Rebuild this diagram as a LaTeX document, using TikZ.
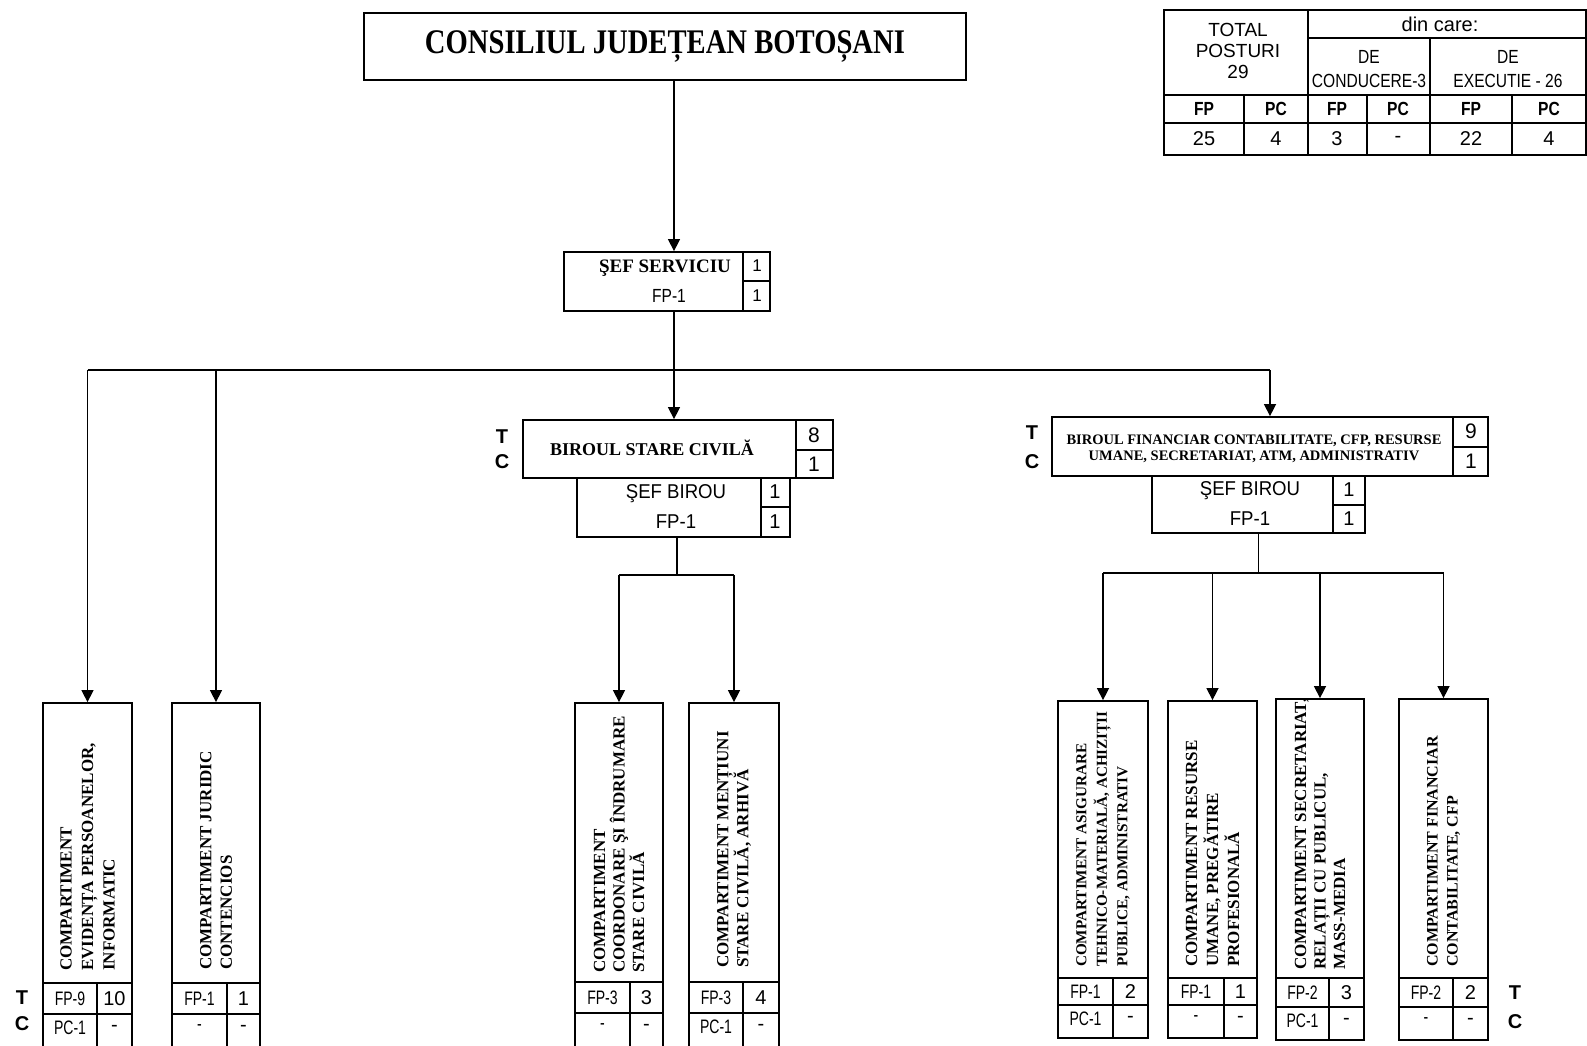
\documentclass[tikz,border=0pt]{standalone}
\usepackage{fontspec}
\setmainfont{Liberation Serif}
\newfontfamily\sansf{Liberation Sans}
\newfontfamily\narrowf[FakeStretch=0.82]{Liberation Sans}
\newfontfamily\thinf[FakeStretch=0.72]{Liberation Sans}
\newfontfamily\semif[FakeStretch=0.93]{Liberation Sans}
\newfontfamily\condf[FakeStretch=0.83]{Liberation Serif}
\usetikzlibrary{arrows.meta}
\begin{document}
\begin{tikzpicture}[x=1pt,y=-1pt,
  bx/.style={draw, line width=1.8pt, inner sep=0pt},
  ln/.style={line width=1.4pt},
  cl/.style={line width=1.3pt},
  arr/.style={line width=1.4pt, -{Triangle[length=12pt,width=12pt]}},
  tx/.style={inner sep=0pt, align=center},
  vt/.style={rotate=90, anchor=west, align=left, inner sep=0pt},
  fpf/.style={tx, font=\thinf\fontsize{19.5}{21}\selectfont},
  numf/.style={tx, font=\sansf\fontsize{20}{22}\selectfont},
  tcf/.style={tx, font=\sansf\bfseries\fontsize{20}{22}\selectfont},
  sbf/.style={tx, font=\semif\fontsize{20}{22}\selectfont},
  hdf/.style={tx, font=\bfseries\fontsize{18}{20}\selectfont}
]
\useasboundingbox[fill=white] (0,0) rectangle (1587,1045);

% ---------- top box ----------
\node[bx, minimum width=602pt, minimum height=67pt,
      font=\condf\bfseries\fontsize{34.5}{40}\selectfont] (cj) at (665,46.5) {CONSILIUL JUDEȚEAN BOTOȘANI};

% ---------- sef serviciu ----------
\node[bx, minimum width=206pt, minimum height=59pt] (ss) at (667,281.5) {};
\draw[cl] (743,252) -- (743,311);
\draw[cl] (743,281) -- (770,281);
\node[tx, font=\bfseries\fontsize{19}{21}\selectfont] (sst) at (665,268) {ŞEF SERVICIU};
\node[tx, font=\narrowf\fontsize{19}{21}\selectfont] (ssf) at (669,296) {FP-1};
\node[tx, font=\sansf\fontsize{17}{19}\selectfont] (ssn1) at (757,266) {1};
\node[tx, font=\sansf\fontsize{17}{19}\selectfont] (ssn2) at (757,296) {1};

% ---------- birou stare civila ----------
\node[bx, minimum width=310pt, minimum height=58pt] (bsc) at (678,449) {};
\draw[cl] (796,420) -- (796,478);
\draw[cl] (796,450) -- (833,450);
\node[hdf] (bsct) at (652,448) {BIROUL STARE CIVILĂ};
\node[numf, font=\sansf\fontsize{21}{22}\selectfont] (bscn1) at (814,435) {8};
\node[numf, font=\sansf\fontsize{21}{22}\selectfont] (bscn2) at (814,464) {1};
\node[tcf] (bscT) at (502,437) {T};
\node[tcf] (bscC) at (502,462) {C};

\node[bx, minimum width=213pt, minimum height=59pt] (sb) at (683.5,507.5) {};
\draw[cl] (761,478) -- (761,537);
\draw[cl] (761,507) -- (790,507);
\node[sbf] (sbt) at (676,494) {ŞEF BIROU};
\node[sbf] (sbp) at (676,522) {FP-1};
\node[numf] (sbn1) at (775,492) {1};
\node[numf] (sbn2) at (775,522) {1};

% ---------- birou financiar ----------
\node[bx, minimum width=436pt, minimum height=59pt] (bf) at (1270,446.5) {};
\draw[cl] (1453,417) -- (1453,476);
\draw[cl] (1453,447) -- (1488,447);
\node[tx, font=\bfseries\fontsize{14.5}{15.5}\selectfont] (bft) at (1254,449)
  {BIROUL FINANCIAR CONTABILITATE, CFP, RESURSE\\UMANE, SECRETARIAT, ATM, ADMINISTRATIV};
\node[numf, font=\sansf\fontsize{21}{22}\selectfont] (bfn1) at (1471,431) {9};
\node[numf, font=\sansf\fontsize{21}{22}\selectfont] (bfn2) at (1471,461) {1};
\node[tcf] (bfT) at (1032,433) {T};
\node[tcf] (bfC) at (1032,462) {C};

\node[bx, minimum width=213pt, minimum height=57pt] (sbfi) at (1258.5,504.5) {};
\draw[cl] (1333,476) -- (1333,533);
\draw[cl] (1333,505) -- (1365,505);
\node[sbf] (sbft) at (1250,491) {ŞEF BIROU};
\node[sbf] (sbfp) at (1250,519) {FP-1};
\node[numf] (sbfn1) at (1349,490) {1};
\node[numf] (sbfn2) at (1349,519) {1};

% ---------- bottom compartments ----------
\foreach \nm/\l/\r/\t/\b/\ra/\rb/\cd/\fs/\bs/\tb/\txt/\ca/\cb/\cc/\ce in {
  b1/43/132/703/1050/983/1014/97/17/21.5/971/{COMPARTIMENT\\EVIDENȚA PERSOANELOR,\\INFORMATIC}/FP-9/10/PC-1/-,
  b2/172/260/703/1050/983/1014/227/17/20.5/970/{COMPARTIMENT JURIDIC\\CONTENCIOS}/FP-1/1/-/-,
  b3/575/663/703/1048/982/1013/630/17/19.5/973/{COMPARTIMENT\\COORDONARE ŞI ÎNDRUMARE\\STARE CIVILĂ}/FP-3/3/-/-,
  b4/689/779/703/1048/982/1013/743/17/20/968/{COMPARTIMENT MENȚIUNI\\STARE CIVILĂ, ARHIVĂ}/FP-3/4/PC-1/-,
  b5/1058/1148/701/1038/978/1005/1113/15.2/20.5/967/{COMPARTIMENT ASIGURARE\\TEHNICO-MATERIALĂ, ACHIZIȚII\\PUBLICE, ADMINISTRATIV}/FP-1/2/PC-1/-,
  b6/1168/1257/701/1038/978/1005/1224/17/21/967/{COMPARTIMENT RESURSE\\UMANE, PREGĂTIRE\\PROFESIONALĂ}/FP-1/1/-/-,
  b7/1276/1364/699/1040/978/1007/1329/17/19.5/970/{COMPARTIMENT SECRETARIAT,\\RELAȚII CU PUBLICUL,\\MASS-MEDIA}/FP-2/3/PC-1/-,
  b8/1399/1488/699/1040/978/1007/1453/16/20/967/{COMPARTIMENT FINANCIAR\\CONTABILITATE, CFP}/FP-2/2/-/-}
{
  \node[bx, minimum width={(\r-\l)*1pt}, minimum height={(\b-\t)*1pt}] (\nm) at ({(\l+\r)/2},{(\t+\b)/2}) {};
  \draw[cl] (\l,\ra) -- (\r,\ra);
  \draw[cl] (\l,\rb) -- (\r,\rb);
  \draw[cl] (\cd,\ra) -- (\cd,\b);
  \node[vt, font=\bfseries\fontsize{\fs}{\bs}\selectfont] (\nm t) at ({(\l+\r)/2},\tb) {\txt};
  \node[fpf] (\nm a) at ({(\l+\cd)/2},{(\ra+\rb)/2}) {\ca};
  \node[numf] (\nm b) at ({(\cd+\r)/2},{(\ra+\rb)/2}) {\cb};
  \node[fpf] (\nm c) at ({(\l+\cd)/2},{\rb+14}) {\cc};
  \node[numf] (\nm d) at ({(\cd+\r)/2},{\rb+14}) {\ce};
}
\node[tcf] (lT) at (22,998) {T};
\node[tcf] (lC) at (22,1024) {C};
\node[tcf] (rT) at (1515,993) {T};
\node[tcf] (rC) at (1515,1022) {C};

% ---------- connectors ----------
\coordinate (spine) at (674,0);
\coordinate (bus) at (0,370);
\coordinate (scx) at (677,0);
\coordinate (sbus) at (0,575);
\coordinate (fbus) at (0,573);
\draw[arr] (cj.south -| spine) -- (ss.north -| spine);
\draw[ln] (ss.south -| spine) -- (spine |- bus);
\draw[ln] (b1.north |- bus) -- (bf.north |- bus);
\draw[arr] (b1.north |- bus) -- (b1.north);
\draw[arr] (b2.north |- bus) -- (b2.north);
\draw[arr] (spine |- bus) -- (spine |- bsc.north);
\draw[arr] (bf.north |- bus) -- (bf.north);

\draw[ln] (sb.south -| scx) -- (scx |- sbus);
\draw[ln] (b3.north |- sbus) -- (b4.north |- sbus);
\draw[arr] (b3.north |- sbus) -- (b3.north);
\draw[arr] (b4.north |- sbus) -- (b4.north);

\draw[ln] (sbfi.south) -- (sbfi.south |- fbus);
\draw[ln] (b5.north |- fbus) -- (b8.north |- fbus);
\foreach \k in {b5,b6,b7,b8} \draw[arr] (\k.north |- fbus) -- (\k.north);

% ---------- summary table ----------
\draw[cl] (1164,10) rectangle (1586,155);
\draw[cl] (1308,10) -- (1308,155);
\draw[cl] (1308,38) -- (1586,38);
\draw[cl] (1430,38) -- (1430,155);
\draw[cl] (1164,95) -- (1586,95);
\draw[cl] (1164,123) -- (1586,123);
\foreach \x in {1244,1367,1512} \draw[cl] (\x,95) -- (\x,155);
\node[tx, font=\sansf\fontsize{19}{21}\selectfont] (ttot) at (1238,51) {TOTAL\\POSTURI\\29};
\node[tx, font=\sansf\fontsize{20}{22}\selectfont] (tdin) at (1440,24) {din care:};
\node[tx, font=\narrowf\fontsize{19}{24}\selectfont] (tcond) at (1369,69) {DE\\CONDUCERE-3};
\node[tx, font=\narrowf\fontsize{19}{24}\selectfont] (texec) at (1508,69) {DE\\EXECUTIE - 26};
\foreach \x/\s in {1204/FP,1276/PC,1337/FP,1398/PC,1471/FP,1549/PC}
  \node[tx, font=\narrowf\bfseries\fontsize{19}{20}\selectfont] at (\x,109) {\s};
\foreach \x/\s in {1204/25,1276/4,1337/3,1398/-,1471/22,1549/4}
  \node[tx, font=\sansf\fontsize{20}{22}\selectfont] at (\x,139) {\s};
\end{tikzpicture}
\end{document}
